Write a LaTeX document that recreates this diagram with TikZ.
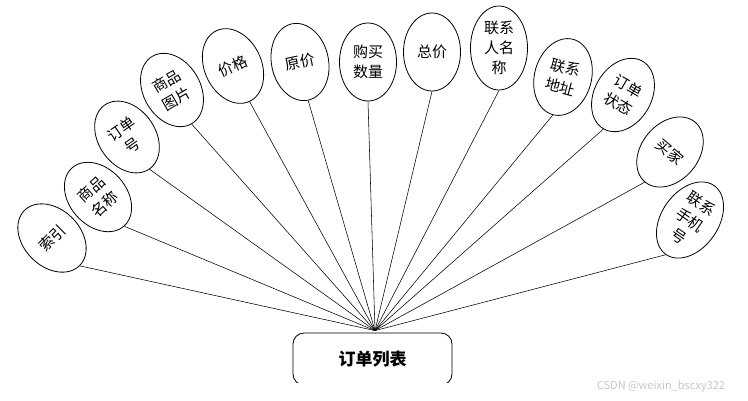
\documentclass[tikz,border=0pt]{standalone}
\usepackage{fontspec}
\usetikzlibrary{shapes.geometric}
\newfontfamily\cjk{Noto Sans CJK SC}

\tikzset{
 attr/.style={ellipse,draw,line width=.8pt,inner sep=0pt,
  minimum width=57pt,minimum height=78pt,align=center,
  font=\cjk\fontsize{15}{20}\selectfont},
 tallattr/.style={attr,minimum width=57pt,minimum height=84pt},
 listbox/.style={draw,line width=.8pt,rounded corners=11pt,
  minimum width=159pt,minimum height=52pt,
  font=\cjk\bfseries\fontsize{17}{20}\selectfont},
 link/.style={line width=.55pt}
}

\begin{document}
\begin{tikzpicture}[x=1pt,y=-1pt]
\useasboundingbox (0,0) rectangle (748,400);
% central table, cut at the lower edge
\begin{scope}
\clip (0,0) rectangle (748,382);
\node[listbox] (list) at (372.5,359) {订单列表};
\end{scope}
\coordinate (hub) at ([xshift=2.5pt,yshift=2pt]list.north);

% attributes
\node[attr,rotate=45] (suoyin) at (52,238) {索引};
\node[attr,rotate=42] (spmc) at (98,197) {商品\\名称};
\node[attr,rotate=35] (ddh) at (127,137) {订单\\号};
\node[attr,rotate=30] (sptp) at (172,90) {商品\\图片};
\node[attr,rotate=25] (jg) at (233,66) {价格};
\node[attr,rotate=12] (yj) at (300,62) {原价};
\node[attr] (gmsl) at (368,62) {购买\\数量};
\node[attr] (zj) at (432,52) {总价};
\node[tallattr] (lxrmc) at (499,48) {联系\\人名\\称};
\node[attr,rotate=-15] (lxdz) at (563,77) {联系\\地址};
\node[attr,rotate=-30] (ddzt) at (623,95) {订单\\状态};
\node[attr,rotate=-40] (mj) at (670,152) {买家};
\node[tallattr,rotate=-35] (lxsjh) at (690,220) {联系\\手机\\号};

\foreach \a in {suoyin,spmc,ddh,sptp,jg,yj,gmsl,zj,lxrmc,lxdz,ddzt,mj,lxsjh}
 \draw[link] (hub) -- (\a.south);

\node[text=gray!45,font=\cjk\fontsize{11}{13}\selectfont] (mark) at (661,386) {CSDN @weixin\_bscxy322};
\end{tikzpicture}
\end{document}
